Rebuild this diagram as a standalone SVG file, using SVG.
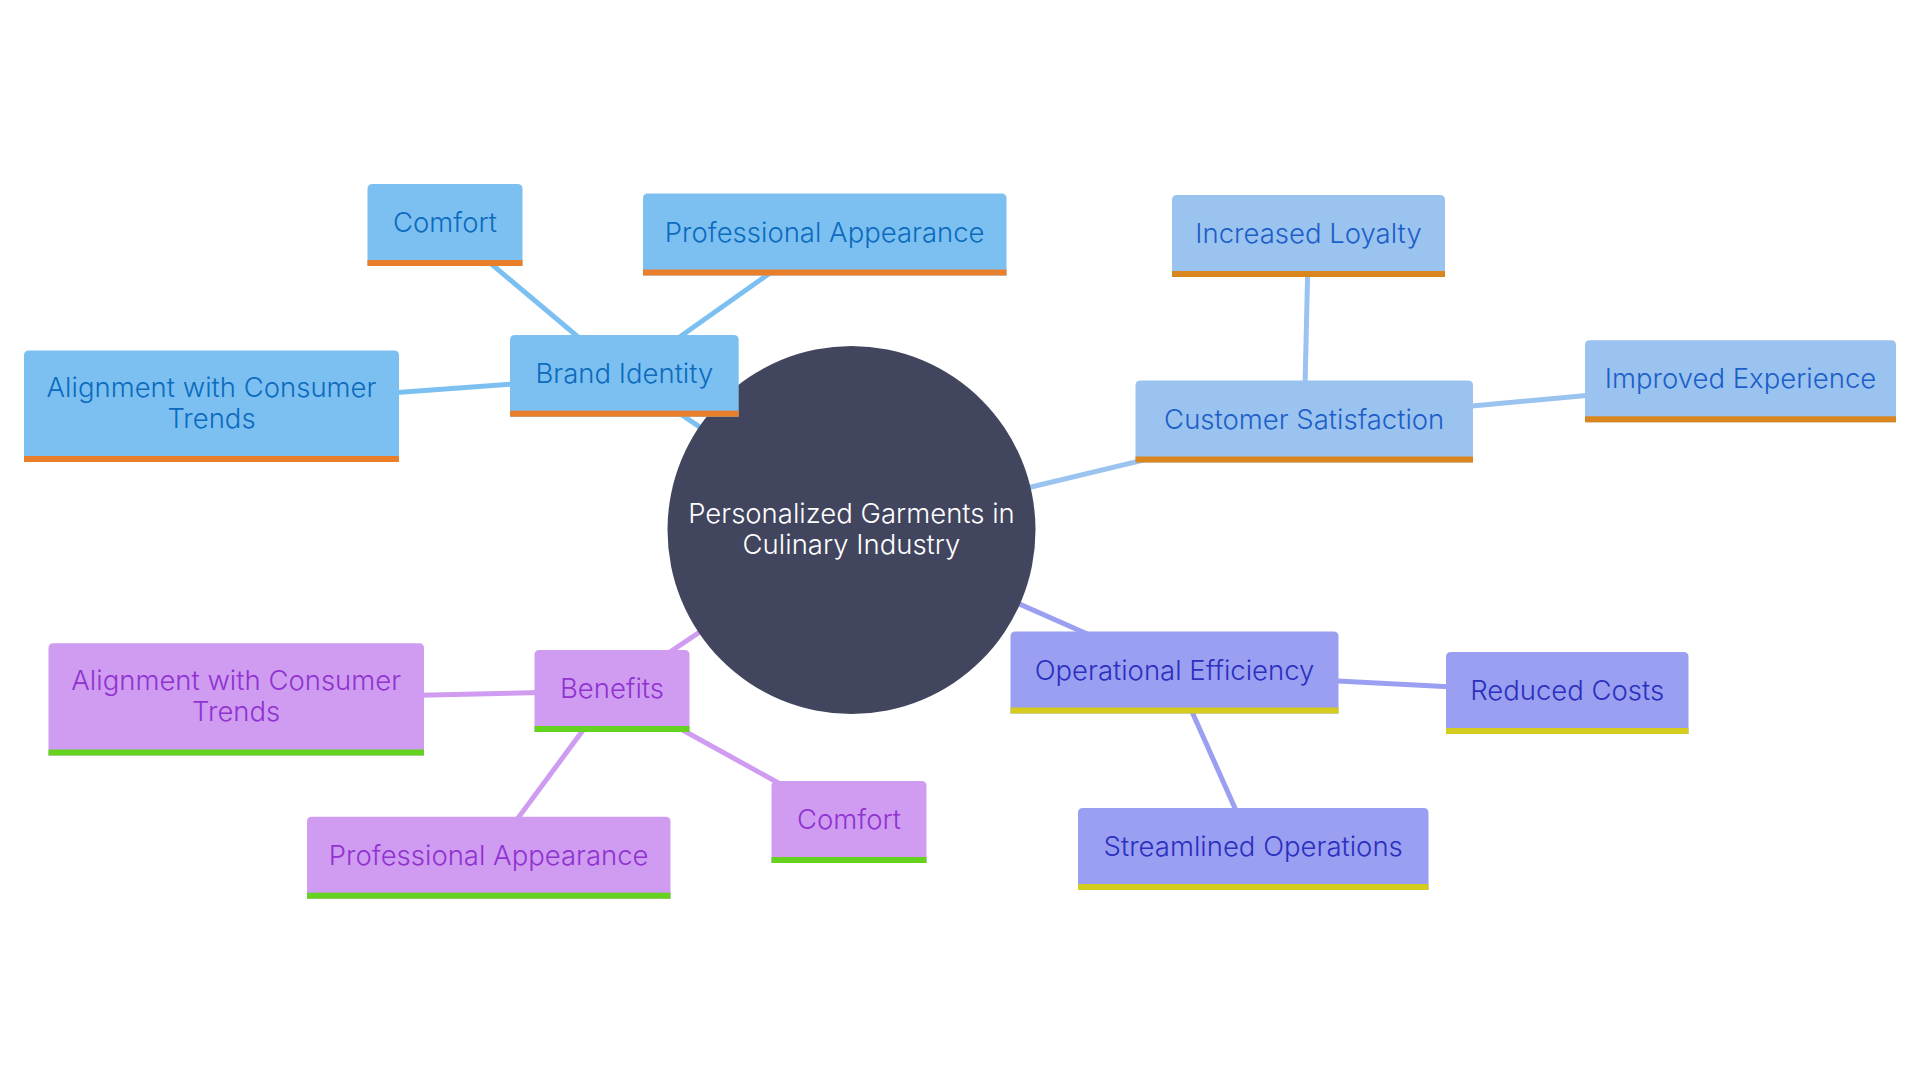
<svg xmlns="http://www.w3.org/2000/svg" width="1920" height="1080" viewBox="0 0 1920 1080">
<style>
text{font-family:Inter,"Noto Sans","Liberation Sans",sans-serif;font-size:27.5px;font-weight:300;text-anchor:middle}
.e{fill:none;stroke-width:5}
.eb{stroke:#7cc0f2}.ec{stroke:#9bc3ef}.eo{stroke:#9a9ff1}.ep{stroke:#cf9cf2}
.b1{fill:#7cc0f2}.b2{fill:#9bc3ef}.b3{fill:#9a9ff1}.b4{fill:#cf9cf2}
.t1{fill:#0c6bbd}.t2{fill:#1c5fc9}.t3{fill:#2b2fbf}.t4{fill:#9033d0}
.r1{fill:#e97f2b}.r2{fill:#d9861f}.r3{fill:#d5cc20}.r4{fill:#65d21f}
.root{fill:#41455e}
.rt{fill:#ffffff}
</style>
<rect width="1920" height="1080" fill="#ffffff"/>
<g id="connectors">
<line class="e eb" x1="851.5" y1="530" x2="624.5" y2="376"/>
<line class="e eb" x1="624.5" y1="376" x2="445" y2="225"/>
<line class="e eb" x1="624.5" y1="376" x2="824.7" y2="234.3"/>
<line class="e eb" x1="624.5" y1="376" x2="211.5" y2="406"/>
<line class="e ec" x1="851.5" y1="530" x2="1304.2" y2="421.5"/>
<line class="e ec" x1="1304.2" y1="421.5" x2="1308.5" y2="236"/>
<line class="e ec" x1="1304.2" y1="421.5" x2="1740.5" y2="381.3"/>
<line class="e eo" x1="851.5" y1="530" x2="1174.5" y2="672.5"/>
<line class="e eo" x1="1174.5" y1="672.5" x2="1567" y2="693"/>
<line class="e eo" x1="1174.5" y1="672.5" x2="1253.2" y2="849"/>
<line class="e ep" x1="851.5" y1="530" x2="612" y2="691"/>
<line class="e ep" x1="612" y1="691" x2="236.2" y2="699.3"/>
<line class="e ep" x1="612" y1="691" x2="488.7" y2="857.7"/>
<line class="e ep" x1="612" y1="691" x2="849" y2="822"/>
</g>
<g id="root">
<circle class="root" cx="851.5" cy="530" r="184"/>
<text class="rt" x="851.5" y="522.5">Personalized Garments in</text>
<text class="rt" x="851.5" y="554">Culinary Industry</text>
</g>
<g id="brand-identity">
<path class="b1" d="M510,416.7V340Q510,335 515,335H733.7Q738.7,335 738.7,340V416.7Z"/>
<rect class="r1" x="510" y="410.7" width="228.7" height="6"/>
<text class="t1" x="624.4" y="382.8">Brand Identity</text>
</g>
<g id="comfort-1">
<path class="b1" d="M367.5,266V189Q367.5,184 372.5,184H517.5Q522.5,184 522.5,189V266Z"/>
<rect class="r1" x="367.5" y="260" width="155" height="6"/>
<text class="t1" x="445" y="232">Comfort</text>
</g>
<g id="professional-appearance-1">
<path class="b1" d="M643,275.5V198.5Q643,193.5 648,193.5H1001.5Q1006.5,193.5 1006.5,198.5V275.5Z"/>
<rect class="r1" x="643" y="269.5" width="363.5" height="6"/>
<text class="t1" x="824.7" y="241.5">Professional Appearance</text>
</g>
<g id="alignment-1">
<path class="b1" d="M24,462V355.5Q24,350.5 29,350.5H394Q399,350.5 399,355.5V462Z"/>
<rect class="r1" x="24" y="456" width="375" height="6"/>
<text class="t1" x="211.5" y="397.3">Alignment with Consumer</text>
<text class="t1" x="211.5" y="428.3">Trends</text>
</g>
<g id="customer-satisfaction">
<path class="b2" d="M1135.5,462.5V385.5Q1135.5,380.5 1140.5,380.5H1468Q1473,380.5 1473,385.5V462.5Z"/>
<rect class="r2" x="1135.5" y="456.5" width="337.5" height="6"/>
<text class="t2" x="1304.2" y="428.5">Customer Satisfaction</text>
</g>
<g id="increased-loyalty">
<path class="b2" d="M1172,277V200Q1172,195 1177,195H1440Q1445,195 1445,200V277Z"/>
<rect class="r2" x="1172" y="271" width="273" height="6"/>
<text class="t2" x="1308.5" y="243">Increased Loyalty</text>
</g>
<g id="improved-experience">
<path class="b2" d="M1585,422.3V345.3Q1585,340.3 1590,340.3H1891Q1896,340.3 1896,345.3V422.3Z"/>
<rect class="r2" x="1585" y="416.3" width="311" height="6"/>
<text class="t2" x="1740.5" y="388.3">Improved Experience</text>
</g>
<g id="operational-efficiency">
<path class="b3" d="M1010.5,713.5V636.5Q1010.5,631.5 1015.5,631.5H1333.5Q1338.5,631.5 1338.5,636.5V713.5Z"/>
<rect class="r3" x="1010.5" y="707.5" width="328" height="6"/>
<text class="t3" x="1174.5" y="679.5">Operational Efficiency</text>
</g>
<g id="reduced-costs">
<path class="b3" d="M1446,734V657Q1446,652 1451,652H1683.5Q1688.5,652 1688.5,657V734Z"/>
<rect class="r3" x="1446" y="728" width="242.5" height="6"/>
<text class="t3" x="1567.2" y="700">Reduced Costs</text>
</g>
<g id="streamlined-operations">
<path class="b3" d="M1078,890V813Q1078,808 1083,808H1423.5Q1428.5,808 1428.5,813V890Z"/>
<rect class="r3" x="1078" y="884" width="350.5" height="6"/>
<text class="t3" x="1253.2" y="856">Streamlined Operations</text>
</g>
<g id="benefits">
<path class="b4" d="M534.5,732V655Q534.5,650 539.5,650H684.5Q689.5,650 689.5,655V732Z"/>
<rect class="r4" x="534.5" y="726" width="155" height="6"/>
<text class="t4" x="612" y="698">Benefits</text>
</g>
<g id="alignment-2">
<path class="b4" d="M48.5,755.5V648.3Q48.5,643.3 53.5,643.3H419Q424,643.3 424,648.3V755.5Z"/>
<rect class="r4" x="48.5" y="749.5" width="375.5" height="6"/>
<text class="t4" x="236.2" y="690">Alignment with Consumer</text>
<text class="t4" x="236.2" y="721">Trends</text>
</g>
<g id="professional-appearance-2">
<path class="b4" d="M307,898.7V821.7Q307,816.7 312,816.7H665.5Q670.5,816.7 670.5,821.7V898.7Z"/>
<rect class="r4" x="307" y="892.7" width="363.5" height="6"/>
<text class="t4" x="488.7" y="864.7">Professional Appearance</text>
</g>
<g id="comfort-2">
<path class="b4" d="M771.5,863V786Q771.5,781 776.5,781H921.5Q926.5,781 926.5,786V863Z"/>
<rect class="r4" x="771.5" y="857" width="155" height="6"/>
<text class="t4" x="849" y="829">Comfort</text>
</g>
</svg>
